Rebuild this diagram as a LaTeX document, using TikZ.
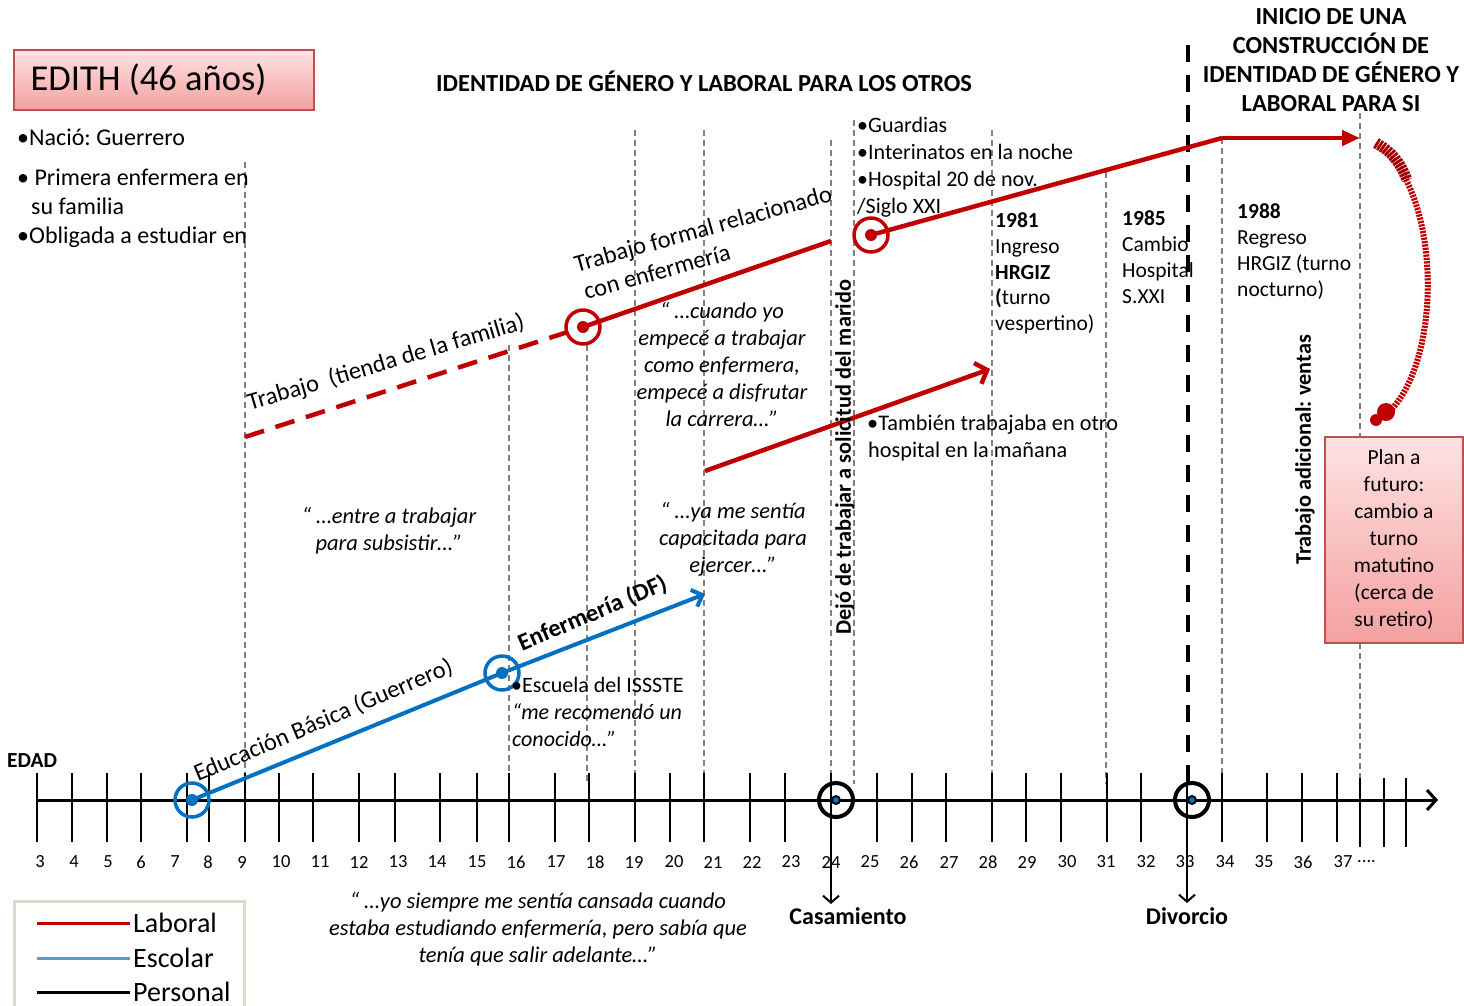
\documentclass[tikz,border=0pt]{standalone}
\usepackage{fontspec}
\setmainfont{Carlito}
\usetikzlibrary{arrows.meta,calc}
\definecolor{lab}{HTML}{C00000}
\definecolor{labdark}{HTML}{A00000}
\definecolor{esc}{HTML}{0070C0}
\definecolor{escl}{HTML}{5B9BD5}
\definecolor{guide}{HTML}{808080}
\definecolor{boxedge}{HTML}{C0504D}
\definecolor{boxtop}{HTML}{FFE2E2}
\definecolor{boxbot}{HTML}{F4A0A0}
\definecolor{legedge}{HTML}{DDDACB}
\newcommand{\fs}[2]{\fontsize{#1}{#2}\selectfont}
\frenchspacing
\begin{document}
\frenchspacing
\begin{tikzpicture}[x=1pt,y=-1pt,
  guideline/.style={draw=guide,line width=1.3pt,dash pattern=on 6pt off 4pt},
  tickline/.style={line width=2pt},
  labline/.style={draw=lab,line width=4.5pt},
  escline/.style={draw=esc,line width=4pt},
  chev/.style={-{Straight Barb[length=9pt,width=18pt]}},
  body/.style={font=\fs{22}{27},inner sep=0pt,align=left},
  quote/.style={font=\fs{22.5}{27}\itshape,inner sep=0pt,align=center},
  head/.style={font=\fs{24.5}{29}\bfseries,inner sep=0pt,align=center},
  num/.style={font=\fs{18.5}{20},inner sep=0pt},
  slant/.style={font=\fs{24.4}{27},inner sep=0pt,anchor=west},
  labring/.style={circle,draw=lab,line width=3.5pt,minimum size=34pt,inner sep=0pt},
  escring/.style={circle,draw=esc,line width=3.5pt,minimum size=34pt,inner sep=0pt},
  blkring/.style={circle,draw=black,line width=4pt,minimum size=34pt,inner sep=0pt},
  pinkbox/.style={draw=boxedge,line width=1.5pt,top color=boxtop,bottom color=boxbot}
]
\useasboundingbox (0,0) rectangle (1464,1005);
\fill[white] (0,0) rectangle (1464,1005);

% vertical guide lines
\foreach \x/\t in {245/162,509/345,587/345,635/130,704/130,831/140,854/120,992/130,1106/172,1222/138,1360/113}
  \draw[guideline] (\x,\t) -- (\x,784);

% phase divider
\draw[line width=4pt,dash pattern=on 17pt off 13pt] (1188,45) -- (1188,790);

% age axis
\coordinate (ax0) at (37,800);
\coordinate (ax1) at (1438,800);
\draw[line width=3pt,-{Straight Barb[length=9pt,width=20pt]}] (ax0) -- (ax1);
\foreach \x in {37,72,107,141,187,209,245,279,313,359,395,440,477,509,555,589,635,670,704,750,785,831,877,912,946,992,1026,1061,1107,1141,1187,1222,1267,1302,1337}
  \draw[tickline] (\x,773) -- (\x,842);
\foreach \x in {1360,1384,1406}
  \draw[tickline] (\x,778) -- (\x,847);
\foreach \x/\n in {40/3,74/4,108/5,141/6,175/7,208/8,242/9,281/10,320/11,359/12,398/13,437/14,477/15,516/16,556/17,595/18,634/19,674/20,713/21,752/22,791/23,831/24,870/25,909/26,949/27,988/28,1027/29,1067/30,1106/31,1146/32,1185/33,1225/34,1264/35,1303/36,1343/37}
  \node[num] at (\x,862) {\n};
\node[num,anchor=west] (dots) at (1357,862) {....};
\node[font=\fs{21.4}{24}\bfseries,inner sep=0pt,anchor=west] (edad) at (7,761) {EDAD};

% title boxes and headings
\node[pinkbox,minimum width=300pt,minimum height=60pt,inner sep=0pt,font=\fs{36.5}{40}] (name) at (164,80) {EDITH (46 años)\hspace*{31pt}};
\node[head] (h1) at (704,81) {IDENTIDAD DE GÉNERO Y LABORAL PARA LOS OTROS};
\node[head] (h2) at (1331,60.5) {INICIO DE UNA\\CONSTRUCCIÓN DE\\IDENTIDAD DE GÉNERO Y\\LABORAL PARA SI};

\node[body,font=\fs{24}{29},anchor=west] (n1) at (17,137) {•Nació: Guerrero};
\node[body,font=\fs{24}{29},anchor=west] (n2) at (17,191.5) {• Primera enfermera en\\\hspace*{14pt}su familia};
\node[body,font=\fs{24}{29},anchor=west] (n3) at (17,237) {•Obligada a estudiar en};

% school trajectory
\node[escring] (b1) at (192,800) {};
\node[escring] (b2) at (502,673) {};
\fill[esc] (b1.center) circle (6);
\fill[esc] (b2.center) circle (6);
\coordinate (bend) at (705,594);
\draw[escline] (b1.center) -- (b2.center);
\draw[escline,chev] (b2.center) -- (bend);
\node[slant,rotate=23] (edb) at (195,775) {Educación Básica (Guerrero)};
\node[slant,rotate=23,font=\fs{24.4}{27}\bfseries] (enf) at (519,645) {Enfermería (DF)};
\node[body,anchor=west] (iss) at (511,685) {•Escuela del ISSSTE};
\node[body,anchor=west,font=\fs{22}{27}\itshape] (rec) at (512,725.5) {“me recomendó un\\conocido…”};

% work trajectory
\coordinate (w0) at (245,437);
\node[labring] (r1) at (583,327) {};
\fill[lab] (r1.center) circle (6);
\coordinate (w1) at (831,241);
\draw[labline,dash pattern=on 20pt off 12pt] (w0) -- (r1.center);
\draw[labline] (r1.center) -- (w1);
\node[slant,rotate=16.5] (tienda) at (248,404) {Trabajo~~(tienda de la familia)};
\node[slant,rotate=15.5] (tf1) at (575,266) {Trabajo formal relacionado};
\node[slant,rotate=15.5] (tf2) at (584,292) {con enfermería};

\node[labring] (r2) at (871,235) {};
\fill[lab] (r2.center) circle (6);
\coordinate (w2) at (1222,138);
\coordinate (w3) at (1360,138);
\draw[labline] (r2.center) -- (w2);
\draw[labline,-{Triangle[length=18pt,width=15pt]}] (w2) -- (w3);

\coordinate (m0) at (705,471);
\coordinate (m1) at (990,369);
\draw[labline,-{Straight Barb[length=10pt,width=22pt]}] (m0) -- (m1);

% future plan curve
\coordinate (f0) at (1376,143);
\coordinate (f1) at (1382,418);
\draw[lab,line width=6pt,dash pattern=on 2.2pt off 1.2pt] (f0) .. controls (1444,190) and (1444,372) .. (f1);
\draw[labdark,line width=11pt,dash pattern=on 2.5pt off 1pt] (f0) .. controls (1392,152) and (1400,162) .. (1407,180);
\fill[lab] (1386,412) circle (9);
\fill[lab] (1376,420) circle (6);

% personal events
\node[blkring] (k1) at (836,800) {};
\fill[black] (k1.center) circle (5);
\fill[esc] (k1.center) circle (2.8);
\node[blkring] (k2) at (1192,800) {};
\fill[black] (k2.center) circle (5);
\fill[esc] (k2.center) circle (2.8);
\node[font=\fs{24}{28}\bfseries,inner sep=0pt] (casa) at (848,916) {Casamiento};
\node[font=\fs{24}{28}\bfseries,inner sep=0pt] (divo) at (1187,916) {Divorcio};
\coordinate (c24) at (831,800);
\coordinate (c24e) at (831,904);
\coordinate (c33) at (1187,800);
\coordinate (c33e) at (1187,903);
\draw[line width=2pt,-{Straight Barb[length=7pt,width=16pt]}] (c24) -- (c24e);
\draw[line width=2pt,-{Straight Barb[length=7pt,width=16pt]}] (c33) -- (c33e);

% vertical labels
\node[font=\fs{22.3}{24}\bfseries,inner sep=0pt,rotate=90] (dejo) at (845,457) {Dejó de trabajar a solicitud del marido};
\node[font=\fs{22.3}{24}\bfseries,inner sep=0pt,rotate=90] (vent) at (1305,450) {Trabajo adicional: ventas};

% notes
\node[body,anchor=west] (g1) at (857,167.5) {•Guardias\\•Interinatos en la noche\\•Hospital 20 de nov.\\/Siglo XXI};
\node[body,anchor=west,font=\fs{21.5}{25.75}] (y81) at (995,273.5) {\textbf{1981}\\Ingreso\\\textbf{HRGIZ}\\\textbf{(}turno\\vespertino)};
\node[body,anchor=west,font=\fs{21.5}{26}] (y85) at (1122,257) {\textbf{1985}\\Cambio\\Hospital\\S.XXI};
\node[body,anchor=west,font=\fs{21.5}{26}] (y88) at (1237,252) {\textbf{1988}\\Regreso\\HRGIZ (turno\\nocturno)};
\node[body,anchor=west,font=\fs{22.3}{27}] (tamb) at (867,438.5) {•También trabajaba en otro\\\hspace*{1pt}hospital en la mañana};

% quotes
\node[quote] (q1) at (722,364) {“ …cuando yo\\empecé a trabajar\\como enfermera,\\empecé a disfrutar\\la carrera…”};
\node[quote] (q2) at (389,530.5) {“ …entre a trabajar\\para subsistir…”};
\node[quote] (q3) at (733,539) {“ …ya me sentía\\capacitada para\\ejercer…”};
\node[quote] (q4) at (538,929) {“ …yo siempre me sentía cansada cuando\\estaba estudiando enfermería, pero sabía que\\tenía que salir adelante…”};

% future plan box
\node[pinkbox,minimum width=138pt,minimum height=206pt,align=center,font=\fs{21.5}{27},inner sep=0pt] (plan) at (1394,540) {Plan a\\futuro:\\cambio a\\turno\\matutino\\(cerca de\\su retiro)};

% legend
\draw[legedge,line width=3pt] (14,1010) -- (14,901) -- (244,901) -- (244,1010);
\coordinate (l1a) at (37,923); \coordinate (l1b) at (130,923);
\coordinate (l2a) at (37,958); \coordinate (l2b) at (130,958);
\coordinate (l3a) at (37,992); \coordinate (l3b) at (130,992);
\draw[lab,line width=3pt] (l1a) -- (l1b);
\draw[escl,line width=3pt] (l2a) -- (l2b);
\draw[black,line width=3pt] (l3a) -- (l3b);
\node[font=\fs{28}{30},inner sep=0pt,anchor=west] (lg1) at (133,923) {Laboral};
\node[font=\fs{28}{30},inner sep=0pt,anchor=west] (lg2) at (133,958) {Escolar};
\node[font=\fs{28}{30},inner sep=0pt,anchor=west] (lg3) at (133,992) {Personal};
\end{tikzpicture}
\end{document}
